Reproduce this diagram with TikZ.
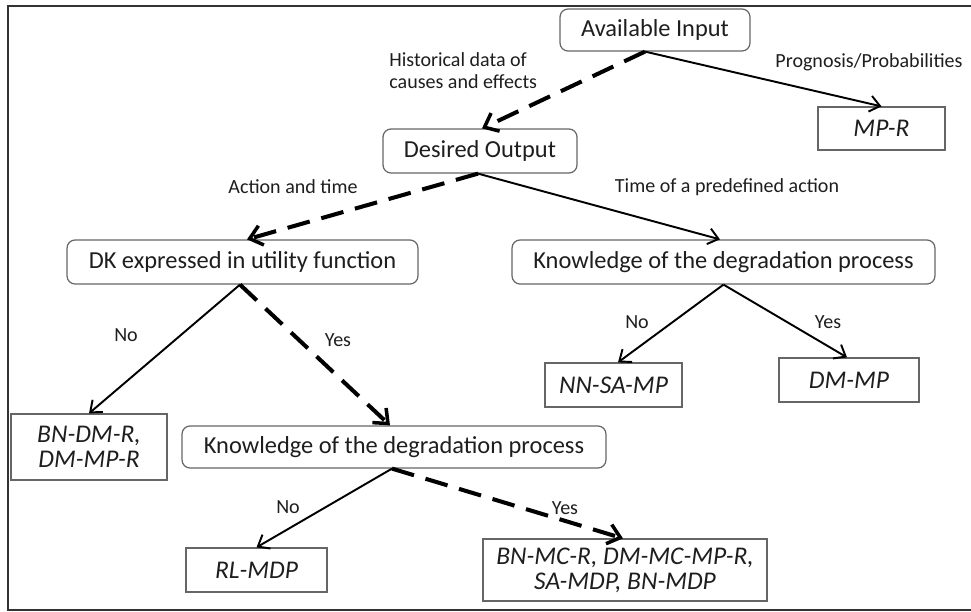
\documentclass[tikz,border=0pt]{standalone}
\usepackage{fontspec}
\setmainfont{Carlito}
\usetikzlibrary{arrows.meta}
\definecolor{txt}{HTML}{1E1E1E}
\definecolor{bord}{HTML}{666666}
\tikzset{
  x=0.02cm, y=-0.02cm,
  rbox/.style={draw=bord, line width=0.7pt, rounded corners=0.16cm, fill=white, text=txt,
     font=\fontsize{13.9}{16}\selectfont, inner sep=0pt},
  sbox/.style={draw=bord, line width=0.7pt, fill=white, text=txt, align=center,
     font=\fontsize{14.5}{14.2}\selectfont\itshape, inner sep=0pt},
  lbl/.style={text=txt, font=\fontsize{11.4}{12.5}\selectfont, inner sep=0pt},
  solidarrow/.style={draw=black, line width=1.1pt, -{Straight Barb[length=0.2cm, width=0.32cm, line width=1.1pt]}},
  dasharrow/.style={draw=black, line width=2.3pt, dash pattern=on 0.46cm off 0.24cm,
     -{Straight Barb[length=0.24cm, width=0.4cm, line width=2pt]}},
}
\begin{document}
\begin{tikzpicture}
\useasboundingbox (0,0) rectangle (971,612);
\fill[white] (0,0) rectangle (971,612);
% frame
\draw[color=black!80, line width=1.4pt] (975,6) -- (8,6) -- (8,610) -- (975,610);

% nodes
\node[rbox, minimum width=3.8cm, minimum height=0.84cm] (ai) at (655,30) {Available Input};
\node[sbox, minimum width=2.54cm, minimum height=0.86cm] (mpr) at (881.5,128.5) {MP-R};
\node[rbox, minimum width=3.88cm, minimum height=0.88cm] (do) at (480,151) {Desired Output};
\node[rbox, minimum width=7.02cm, minimum height=0.88cm] (dk) at (242.5,262) {DK expressed in utility function};
\node[rbox, minimum width=8.46cm, minimum height=0.88cm] (k1) at (723.5,262) {Knowledge of the degradation process};
\node[sbox, minimum width=2.74cm, minimum height=0.88cm] (nn) at (613.5,385) {NN-SA-MP};
\node[sbox, minimum width=2.8cm, minimum height=0.88cm] (dm) at (849,380) {DM-MP};
\node[sbox, minimum width=3.12cm, minimum height=1.32cm] (bn1) at (89,447) {BN-DM-R,\\DM-MP-R};
\node[rbox, minimum width=8.48cm, minimum height=0.84cm] (k2) at (394,447) {Knowledge of the degradation process};
\node[sbox, minimum width=2.82cm, minimum height=0.88cm] (rl) at (256.5,570) {RL-MDP};
\node[sbox, minimum width=5.68cm, minimum height=1.24cm] (bn2) at (625,570) {BN-MC-R, DM-MC-MP-R,\\SA-MDP, BN-MDP};

% labels
\node[lbl, anchor=west, align=left] (lhist) at (389,71) {Historical data of\\causes and effects};
\node[lbl] (lprog) at (869,62) {Prognosis/Probabilities};
\node[lbl] (lact) at (293,187) {Action and time};
\node[lbl] (ltime) at (727,187) {Time of a predefined action};
\node[lbl] (lno1) at (126,335) {No};
\node[lbl] (lyes1) at (338,340) {Yes};
\node[lbl] (lno2) at (637,322) {No};
\node[lbl] (lyes2) at (828,322) {Yes};
\node[lbl] (lno3) at (288,507) {No};
\node[lbl] (lyes3) at (565,508) {Yes};

% connectors
\draw[dasharrow] ([xshift=-0.2cm]ai.south) -- ([xshift=0.04cm]do.north);
\draw[solidarrow] ([xshift=-0.2cm]ai.south) -- (mpr.north);
\draw[dasharrow] ([xshift=-0.04cm]do.south) -- ([xshift=0.09cm]dk.north);
\draw[solidarrow] ([xshift=-0.04cm]do.south) -- ([xshift=-0.07cm]k1.north);
\draw[solidarrow] ([xshift=-0.05cm]dk.south) -- (bn1.north);
\draw[dasharrow] ([xshift=-0.05cm]dk.south) -- ([xshift=-0.08cm]k2.north);
\draw[solidarrow] (k1.south) -- ([xshift=0.09cm]nn.north);
\draw[solidarrow] (k1.south) -- ([xshift=-0.04cm]dm.north);
\draw[solidarrow] ([xshift=-0.04cm]k2.south) -- (rl.north);
\draw[dasharrow] ([xshift=-0.04cm]k2.south) -- ([xshift=-0.04cm]bn2.north);
\end{tikzpicture}
\end{document}
